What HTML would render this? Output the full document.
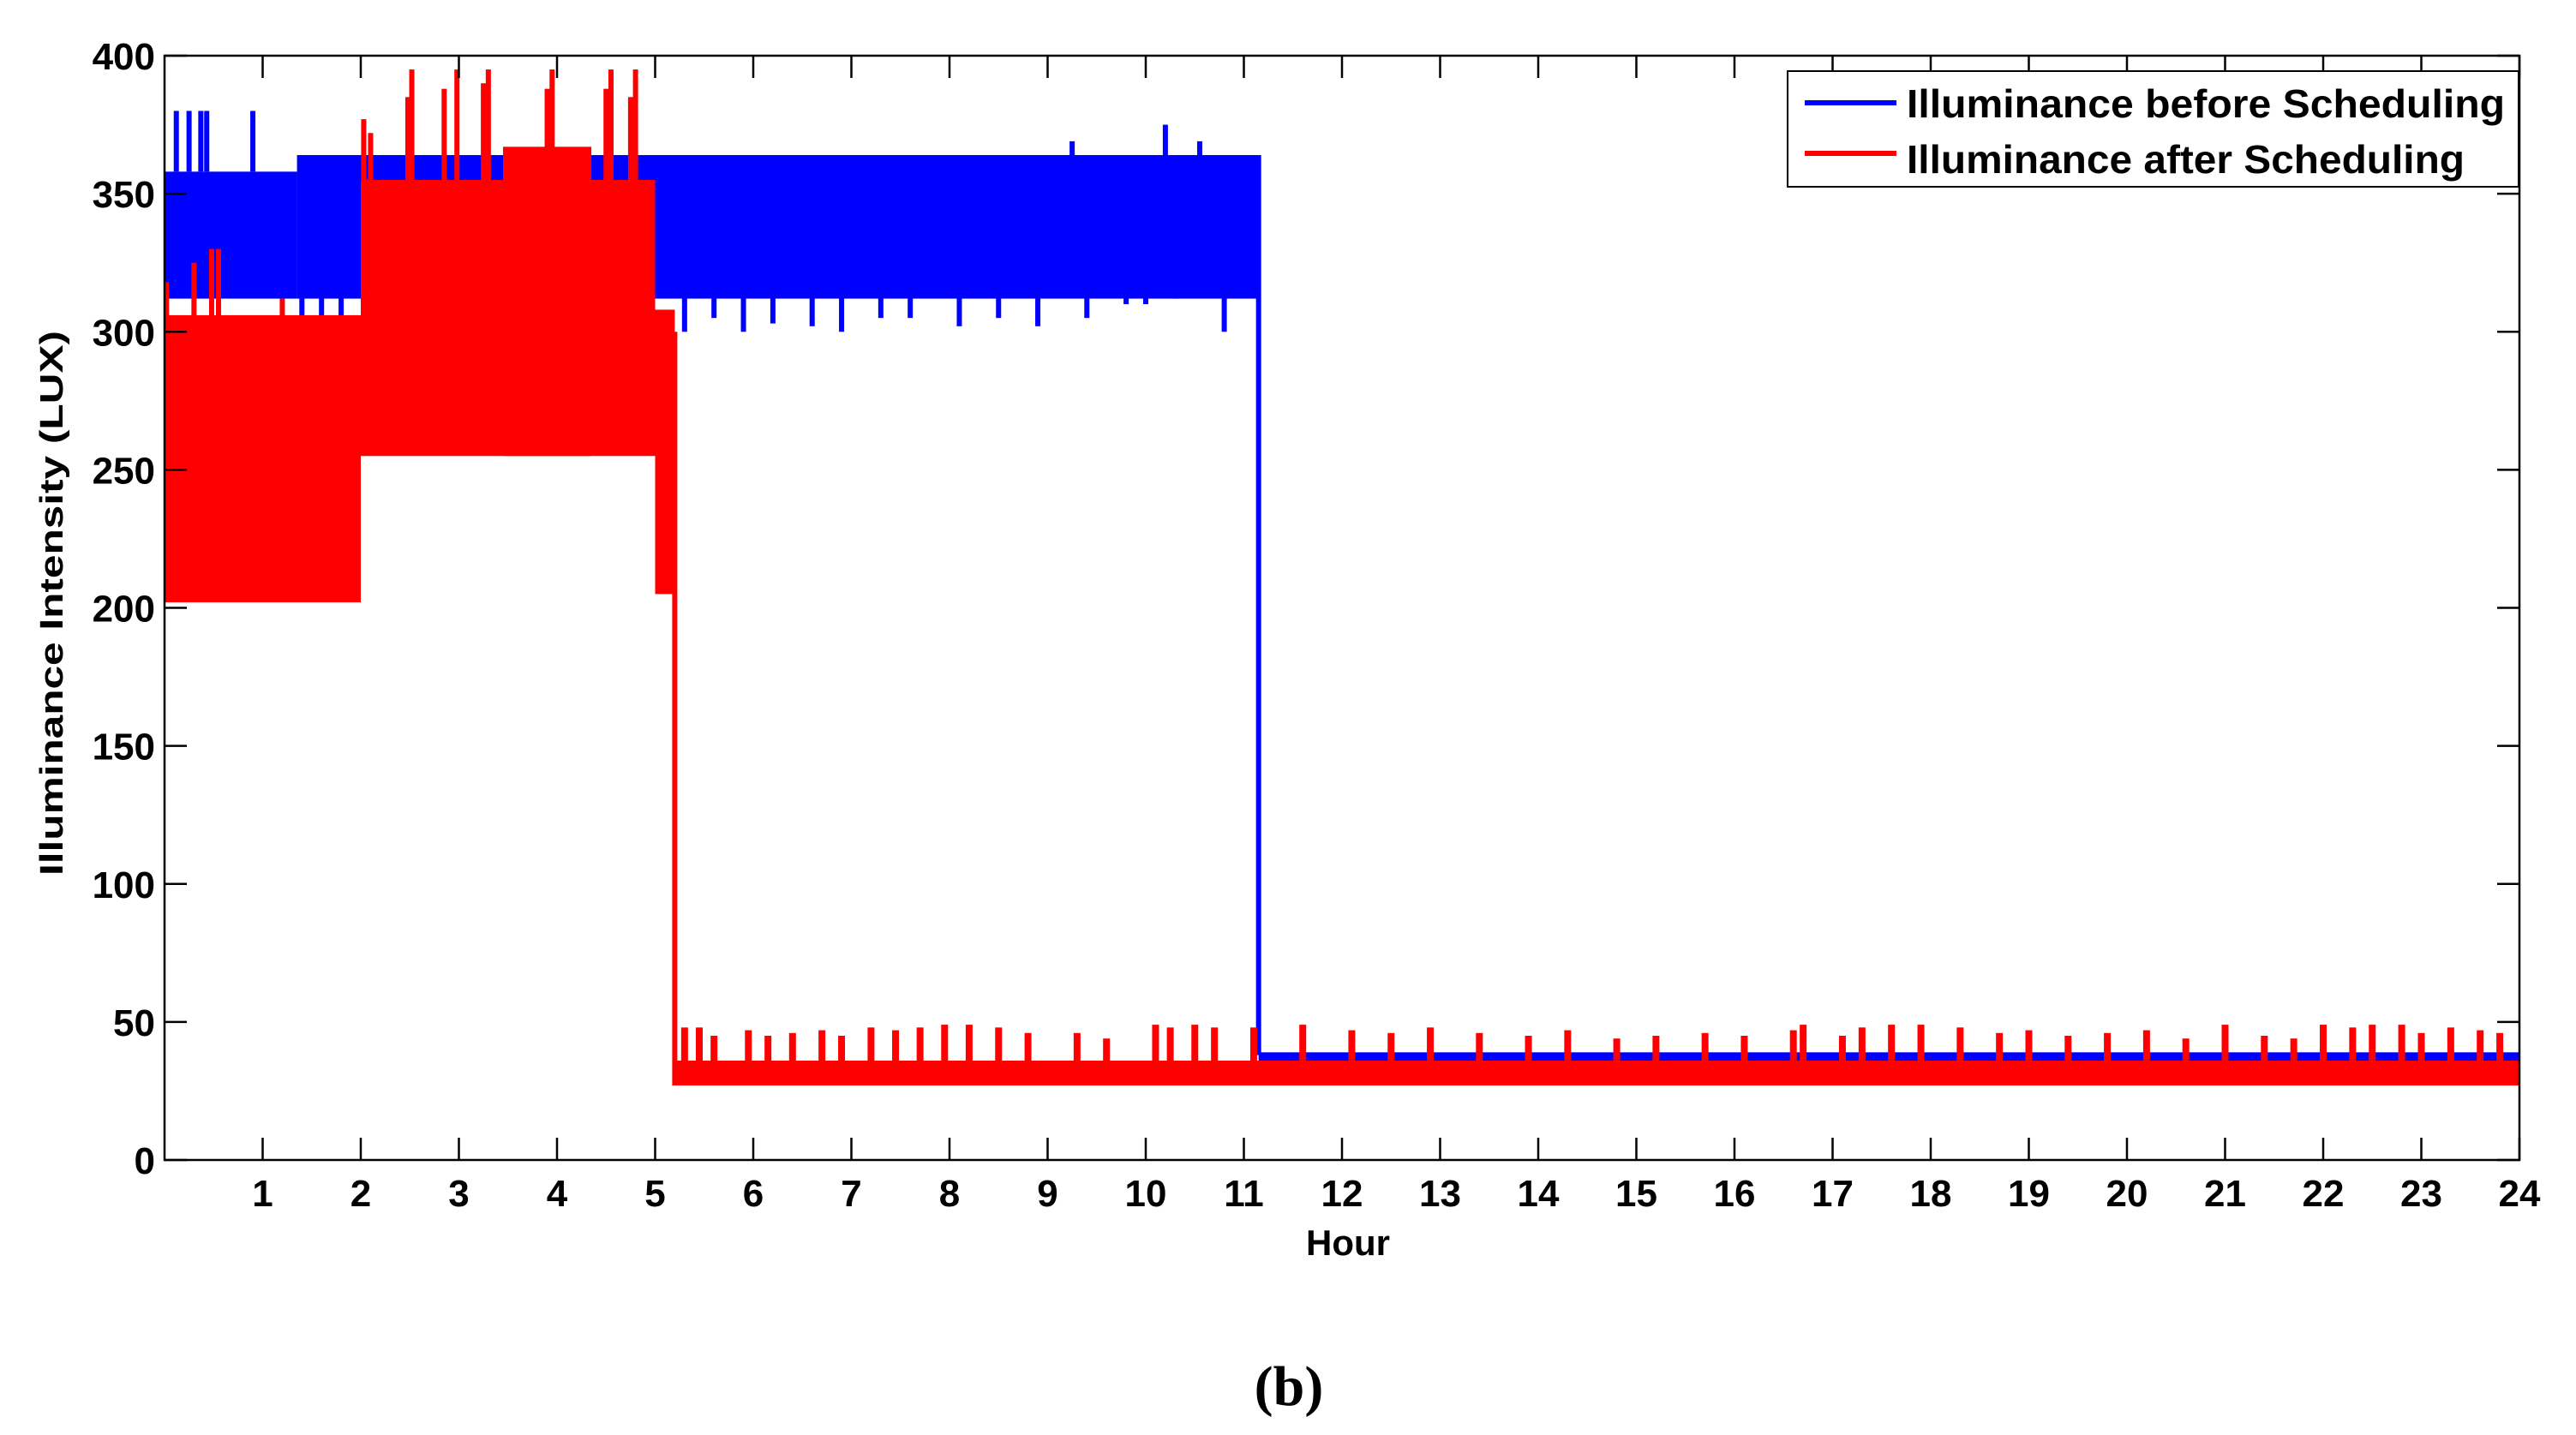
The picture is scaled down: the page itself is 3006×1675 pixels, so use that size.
<!DOCTYPE html>
<html><head><meta charset="utf-8"><style>
html,body{margin:0;padding:0;background:#fff;}
svg{display:block;font-family:"Liberation Sans",Arial,sans-serif;}
</style></head><body>
<svg id="chart" width="3006" height="1675" viewBox="0 0 3006 1675" xmlns="http://www.w3.org/2000/svg">
<rect width="3006" height="1675" fill="#fff"/>
<g id="marks"></g>
<g id="axes"></g>
<text x="1573" y="1465" font-size="42" font-weight="bold" text-anchor="middle">Hour</text>
<text transform="translate(73,704) rotate(-90)" font-size="38" font-weight="bold" text-anchor="middle" textLength="636" lengthAdjust="spacingAndGlyphs">Illuminance Intensity (LUX)</text>
<text x="1504" y="1640" font-size="66" font-weight="bold" font-family="Liberation Serif, serif" text-anchor="middle">(b)</text>
<g>
<rect x="2086" y="83" width="853" height="135" fill="#fff" stroke="#000" stroke-width="2"/>
<line x1="2106" y1="120" x2="2213" y2="120" stroke="#0000ff" stroke-width="6"/>
<text x="2225" y="137" font-size="46" font-weight="bold" textLength="698" lengthAdjust="spacingAndGlyphs">Illuminance before Scheduling</text>
<line x1="2106" y1="179" x2="2213" y2="179" stroke="#ff0000" stroke-width="6"/>
<text x="2225" y="202" font-size="46" font-weight="bold" textLength="651" lengthAdjust="spacingAndGlyphs">Illuminance after Scheduling</text>
</g>
</svg>
<script>
// ---- data (hours, lux) ----
const blueSegStart = [0, 1.35, 11.15];
const blueSegEnd   = [1.35, 11.15, 24];
const blueSegLow   = [312, 312, 35];
const blueSegHigh  = [358, 364, 39];
const blueSpikeHour = [0.12,0.25,0.37,0.43,0.9,9.25,10.2,10.55];
const blueSpikeVal  = [380,380,380,380,380,369,375,369];
const blueDipHour = [1.4,1.6,1.8,5.3,5.6,5.9,6.2,6.6,6.9,7.3,7.6,8.1,8.5,8.9,9.4,9.8,10.0,10.3,10.8];
const blueDipVal  = [300,305,302,300,305,300,303,302,300,305,305,302,305,302,305,310,310,312,300];
const blueDropHour = [11.15];
const redSegStart = [0, 2.0, 3.45, 5.0, 5.2];
const redSegEnd   = [2.0, 5.0, 4.35, 5.2, 24];
const redSegLow   = [202, 255, 255, 205, 27];
const redSegHigh  = [306, 355, 367, 308, 36];
const redSpikeHour = [0.02,0.3,0.48,0.55,1.2,2.03,2.1,2.48,2.52,2.85,2.98,3.25,3.3,3.9,3.95,4.5,4.55,4.75,4.8];
const redSpikeVal  = [318,325,330,330,312,377,372,385,395,388,395,390,395,388,395,388,395,385,395];
const redLowSpikeHour = [5.3,5.45,5.6,5.95,6.15,6.4,6.7,6.9,7.2,7.45,7.7,7.95,8.2,8.5,8.8,9.3,9.6,10.1,10.25,10.5,10.7,11.1,11.6,12.1,12.5,12.9,13.4,13.9,14.3,14.8,15.2,15.7,16.1,16.6,16.7,17.1,17.3,17.6,17.9,18.3,18.7,19.0,19.4,19.8,20.2,20.6,21.0,21.4,21.7,22.0,22.3,22.5,22.8,23.0,23.3,23.6,23.8];
const redLowSpikeVal  = [48,48,45,47,45,46,47,45,48,47,48,49,49,48,46,46,44,49,48,49,48,48,49,47,46,48,46,45,47,44,45,46,45,47,49,45,48,49,49,48,46,47,45,46,47,44,49,45,44,49,48,49,49,46,48,47,46];
const xTicks = [1,2,3,4,5,6,7,8,9,10,11,12,13,14,15,16,17,18,19,20,21,22,23,24];
const yTicks = [0,50,100,150,200,250,300,350,400];

const L=192,R=2940,T=65,B=1354;
const X=h=>L+h*(R-L)/24;
const Y=v=>B-v*(B-T)/400;
const NS='http://www.w3.org/2000/svg';
const marks=document.getElementById('marks');
const axes=document.getElementById('axes');
function mk(tag,parent){const e=document.createElementNS(NS,tag);parent.appendChild(e);return e;}
function band(s,e,lo,hi,col,name){
  const r=mk('rect',marks);
  
  
  r.setAttribute('x',X(s));r.setAttribute('width',X(e)-X(s));
  r.setAttribute('y',Y(hi));r.setAttribute('height',Y(lo)-Y(hi));r.setAttribute('fill',col);
}
function spike(h,from,to,col,name,w){
  w=w||6;
  const r=mk('rect',marks);
  
  
  const a=Math.max(from,to),b=Math.min(from,to);
  r.setAttribute('x',X(h)-w/2);r.setAttribute('width',w);
  r.setAttribute('y',Y(a));r.setAttribute('height',Y(b)-Y(a));r.setAttribute('fill',col);
}
const BL='#0000ff',RD='#ff0000';
blueSegStart.forEach((s,i)=>band(s,blueSegEnd[i],blueSegLow[i],blueSegHigh[i],BL,'blue-band'));
blueSpikeHour.forEach((h,i)=>spike(h,358,blueSpikeVal[i],BL,'blue-spike'));
blueDipHour.forEach((h,i)=>spike(h,blueDipVal[i],320,BL,'blue-dip'));
blueDropHour.forEach(h=>spike(h,38,364,BL,'blue-drop'));
redSegStart.forEach((s,i)=>band(s,redSegEnd[i],redSegLow[i],redSegHigh[i],RD,'red-band'));
redSpikeHour.forEach((h,i)=>spike(h,300,redSpikeVal[i],RD,'red-spike'));
redLowSpikeHour.forEach((h,i)=>spike(h,30,redLowSpikeVal[i],RD,'red-low-spike',8));
spike(5.2,27,300,RD,'red-drop');

const box=mk('rect',axes);


box.setAttribute('x',L);box.setAttribute('y',T);box.setAttribute('width',R-L);box.setAttribute('height',B-T);
box.setAttribute('fill','none');box.setAttribute('stroke','#000');box.setAttribute('stroke-width','2.5');
function ln(x1,y1,x2,y2,name){const l=mk('line',axes);
  
  
  l.setAttribute('x1',x1);l.setAttribute('y1',y1);l.setAttribute('x2',x2);l.setAttribute('y2',y2);
  l.setAttribute('stroke','#000');l.setAttribute('stroke-width','2.5');}
function tx(x,y,s,anchor,name){const t=mk('text',axes);
  
  
  t.setAttribute('x',x);t.setAttribute('y',y);t.setAttribute('font-size','44');t.setAttribute('font-weight','bold');
  t.setAttribute('text-anchor',anchor);t.textContent=s;}
xTicks.forEach(h=>{const x=X(h);ln(x,B,x,B-26,'x-tick');ln(x,T,x,T+26,'x-tick-top');tx(x,1408,String(h),'middle','x-tick-label');});
yTicks.forEach(v=>{const y=Y(v);ln(L,y,L+26,y,'y-tick');ln(R,y,R-26,y,'y-tick-right');tx(181,y+16,String(v),'end','y-tick-label');});
</script>
</body></html>
